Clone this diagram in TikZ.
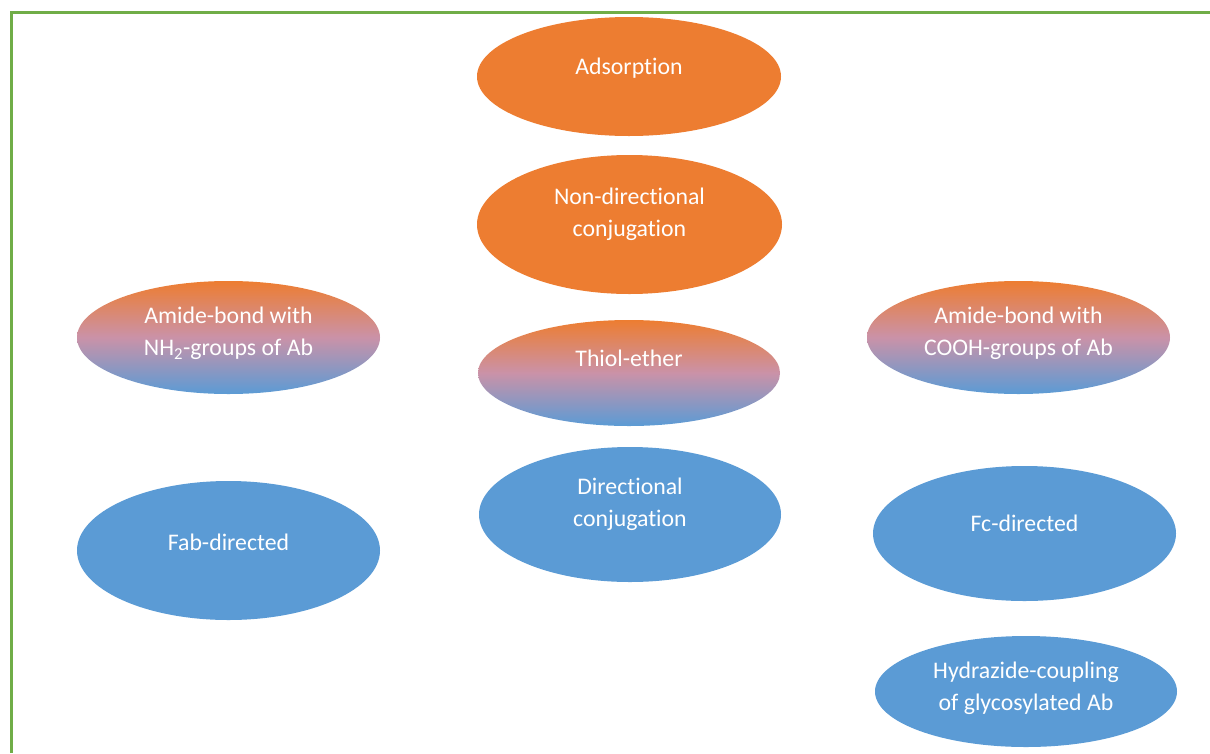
\documentclass[tikz,border=0pt]{standalone}
\usepackage{fontspec}
\setmainfont[Ligatures=NoCommon]{Carlito}
\usetikzlibrary{shapes.geometric}

\definecolor{accorange}{HTML}{ED7D31}
\definecolor{accblue}{HTML}{5B9BD5}
\definecolor{accmauve}{RGB}{202,146,168}
\definecolor{framegreen}{HTML}{70AD47}

\begin{document}
\begin{tikzpicture}[x=1pt,y=-1pt,
  oval/.style={ellipse,inner sep=0pt,draw=none},
  warm/.style={oval,fill=accorange},
  cool/.style={oval,fill=accblue},
  mixed/.style={oval,top color=accorange,bottom color=accblue,middle color=accmauve},
  caption/.style={text=white,align=center,inner sep=0pt,font=\fontsize{23.8}{32}\selectfont}]
\useasboundingbox (0,0) rectangle (1210,753);
\draw[framegreen,line width=3pt] (11,753)--(11,12)--(1210,12);

% middle column
\node[warm,minimum width=304pt,minimum height=119pt] (adsorption) at (629,76.5) {};
\node[caption] (adsorption-txt) at ([yshift=8pt]adsorption.center) {Adsorption};
\node[warm,minimum width=305pt,minimum height=139pt] (nondir) at (629.5,224.5) {};
\node[caption] (nondir-txt) at ([yshift=10pt]nondir.center) {Non-directional\\conjugation};
\node[mixed,minimum width=302pt,minimum height=106pt] (thiol) at (629,373) {};
\node[caption] (thiol-txt) at ([yshift=15pt]thiol.center) {Thiol-ether};
\node[cool,minimum width=302pt,minimum height=135pt] (dircon) at (630,514.5) {};
\node[caption] (dircon-txt) at ([yshift=10.5pt]dircon.center) {Directional\\conjugation};

% left column
\node[mixed,minimum width=303pt,minimum height=113pt] (amine) at (228.5,337.5) {};
\node[caption] (amine-txt) at ([yshift=4pt]amine.center) {Amide-bond with\\NH\textsubscript{2}-groups of Ab};
\node[cool,minimum width=303pt,minimum height=139pt] (fab) at (228.5,550.5) {};
\node[caption] (fab-txt) at ([yshift=8.5pt]fab.center) {Fab-directed};

% right column
\node[mixed,minimum width=303pt,minimum height=113pt] (carboxyl) at (1018.5,337.5) {};
\node[caption] (carboxyl-txt) at ([yshift=4pt]carboxyl.center) {Amide-bond with\\COOH-groups of Ab};
\node[cool,minimum width=303pt,minimum height=135pt] (fc) at (1024.5,533.5) {};
\node[caption] (fc-txt) at ([yshift=10.5pt]fc.center) {Fc-directed};
\node[cool,minimum width=302pt,minimum height=111pt] (hydrazide) at (1026,691.5) {};
\node[caption] (hydrazide-txt) at ([yshift=3.5pt]hydrazide.center) {Hydrazide-coupling\\of glycosylated Ab};
\end{tikzpicture}
\end{document}
